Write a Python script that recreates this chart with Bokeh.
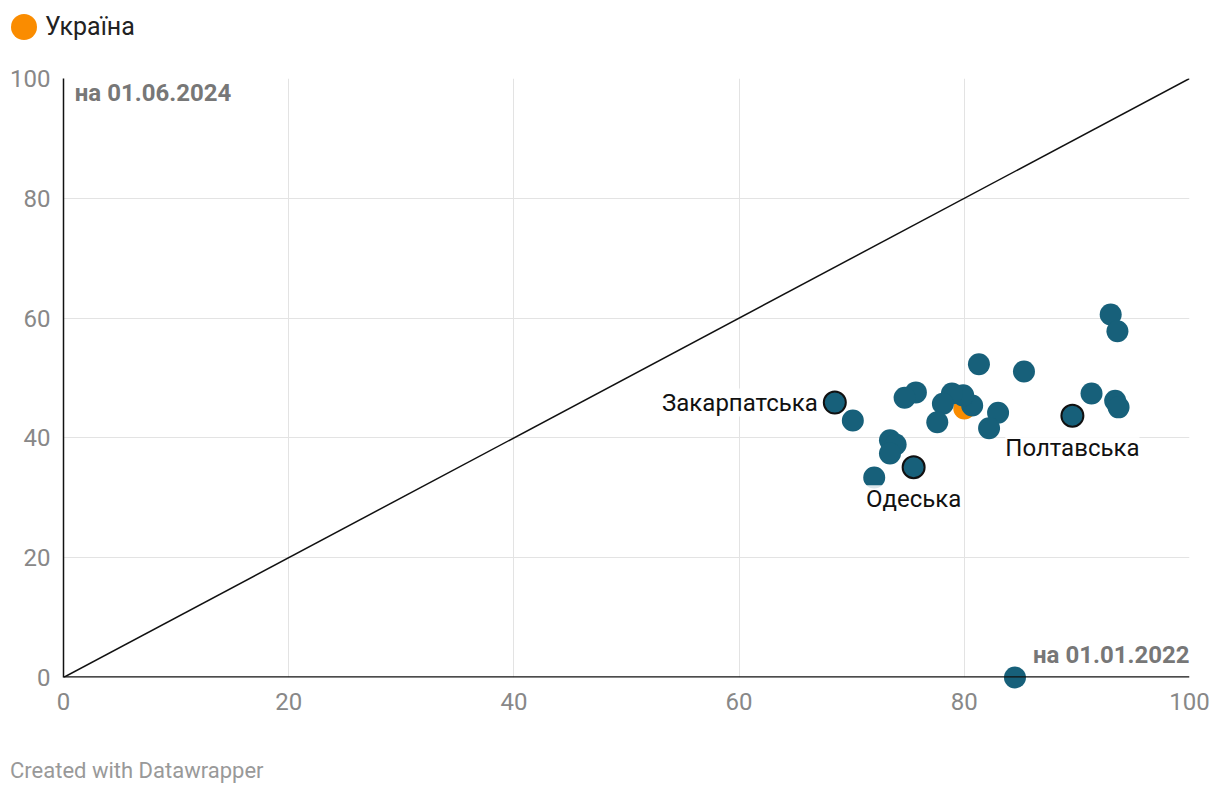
from bokeh.plotting import figure
from bokeh.models import Label, Div, ColumnDataSource, FixedTicker, Span
from bokeh.layouts import column
from bokeh.embed import file_html
from bokeh.resources import INLINE

# Regions: share on 01.01.2022 (x) vs share on 01.06.2024 (y)
region_x = [93.0, 93.6, 81.3, 85.3, 91.3, 93.4, 93.7, 89.6, 83.0, 82.2,
            80.7, 79.9, 78.9, 78.1, 77.6, 75.7, 74.7, 70.1, 68.5, 73.4,
            73.9, 73.4, 75.5, 72.0, 84.5]
region_y = [60.6, 57.8, 52.3, 51.1, 47.4, 46.2, 45.1, 43.7, 44.2, 41.6,
            45.4, 47.1, 47.4, 45.7, 42.6, 47.6, 46.7, 42.9, 45.9, 39.6,
            38.9, 37.4, 35.1, 33.4, 0.0]
region_label = ["", "", "", "", "", "", "", "Полтавська", "", "",
                "", "", "", "", "", "", "", "", "Закарпатська", "",
                "", "", "Одеська", "", ""]

ukraine_x = [80.0]
ukraine_y = [44.9]
ukraine_name = "Україна"

diag_x = [0, 100]
diag_y = [0, 100]

ticks = [0, 20, 40, 60, 80, 100]

TEAL = "#17607a"
ORANGE = "#fa8c00"
FONT = "Roboto"

p = figure(width=1212, height=680, x_range=(0, 100), y_range=(0, 100),
           output_backend="svg", toolbar_location=None,
           min_border_left=63, min_border_right=23,
           min_border_top=20, min_border_bottom=61)
p.outline_line_color = None
p.background_fill_color = "white"
p.border_fill_color = "white"

for ax in (p.xaxis[0], p.yaxis[0]):
    ax.ticker = FixedTicker(ticks=ticks)
    ax.major_tick_line_color = None
    ax.minor_tick_line_color = None
    ax.major_tick_out = 0
    ax.major_label_text_font = FONT
    ax.major_label_text_font_size = "24px"
    ax.major_label_text_color = "#888888"
p.xaxis[0].axis_line_color = None
p.yaxis[0].axis_line_color = "#111111"
p.yaxis[0].axis_line_width = 1.5
p.xaxis[0].major_label_standoff = 15
p.yaxis[0].major_label_standoff = 13

p.xgrid.ticker = FixedTicker(ticks=ticks)
p.ygrid.ticker = FixedTicker(ticks=ticks)
p.grid.grid_line_color = "#e3e3e3"
p.grid.grid_line_width = 1

p.line(diag_x, diag_y, line_color="#111111", line_width=1.5)

p.scatter(ukraine_x, ukraine_y, size=22, fill_color=ORANGE, line_color=None,
          level="overlay")

src = ColumnDataSource(dict(x=region_x, y=region_y, label=region_label))
p.scatter("x", "y", source=src, size=22, fill_color=TEAL, line_color=None,
          level="overlay")

hx = [x for x, l in zip(region_x, region_label) if l]
hy = [y for y, l in zip(region_y, region_label) if l]
p.scatter(hx, hy, size=22, fill_color=TEAL, line_color="#111111",
          line_width=2, level="overlay")

# bottom axis line drawn above the dots
p.add_layout(Span(location=0, dimension="width", line_color="#111111",
                  line_width=2.5, level="overlay"))

for x, y, l in zip(region_x, region_y, region_label):
    if not l:
        continue
    if l == "Закарпатська":
        lab = Label(x=x, y=y, text=l, x_offset=-17, y_offset=0,
                    text_align="right", text_baseline="middle")
    else:
        lab = Label(x=x, y=y, text=l, x_offset=0, y_offset=-32,
                    text_align="center", text_baseline="middle")
    lab.text_font = FONT
    lab.text_font_size = "24px"
    lab.text_color = "#111111"
    lab.background_fill_color = "white"
    lab.background_fill_alpha = 0.85
    lab.level = "overlay"
    p.add_layout(lab)

p.add_layout(Label(x=1.0, y=97.5, text="на 01.06.2024", text_font=FONT,
                   text_font_size="24px", text_font_style="bold",
                   text_color="#777777", text_baseline="middle",
                   text_align="left", background_fill_color="white"))
p.add_layout(Label(x=100, y=3.8, text="на 01.01.2022", text_font=FONT,
                   text_font_size="24px", text_font_style="bold",
                   text_color="#777777", text_baseline="middle",
                   text_align="right", background_fill_color="white"))

legend = Div(text=(
    '<div style="position:relative;height:58px;width:400px">'
    '<span style="position:absolute;left:11px;top:14px;width:26px;height:26px;'
    'border-radius:50%;background:' + ORANGE + '"></span>'
    '<span style="position:absolute;left:45px;top:12px;font-family:Roboto;'
    'font-size:25px;line-height:30px;color:#222">' + ukraine_name + '</span></div>'),
    width=1212, height=58, margin=(0, 0, 0, 0))

footer = Div(text=(
    '<div style="position:relative;height:56px;width:600px">'
    '<span style="position:absolute;left:10px;top:20px;font-family:Roboto;'
    'font-size:22px;line-height:26px;color:#999">Created with Datawrapper</span></div>'),
    width=1212, height=56, margin=(0, 0, 0, 0))

layout = column(legend, p, footer, spacing=0)
open("out.html", "w").write(file_html(layout, INLINE))
